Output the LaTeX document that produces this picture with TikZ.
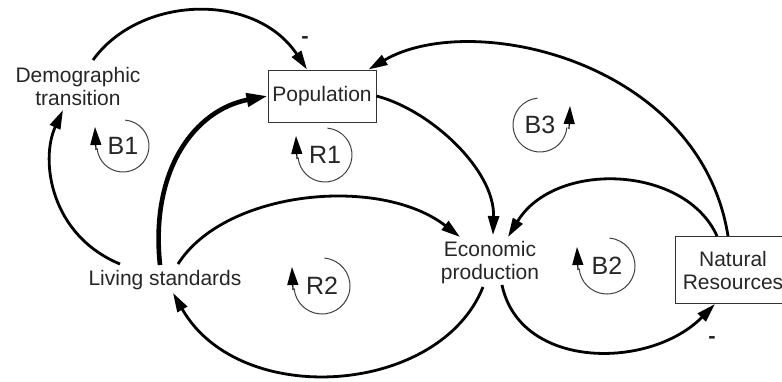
\documentclass[tikz,border=0pt]{standalone}
\usepackage{fontspec}
\setmainfont{Liberation Sans}
\usetikzlibrary{arrows.meta}
\begin{document}
\begin{tikzpicture}[x=1pt,y=1pt,
  every node/.style={text=black!85, inner sep=2pt},
  var/.style={font=\fontsize{21}{23}\selectfont, align=center},
  stock/.style={var, draw=black!80, line width=1pt, minimum width=108pt, minimum height=52pt},
  link/.style={line width=2.8pt, -{Triangle[length=19pt,width=11pt]}},
  strong/.style={link, line width=4.6pt, -{Triangle[length=21pt,width=13pt]}},
  loopname/.style={font=\fontsize{25}{25}\selectfont, inner sep=0pt},
  loopring/.style={line width=1pt, black!75},
  looptip/.style={line width=1.2pt, -{Triangle[length=18pt,width=11pt]}},
  sign/.style={font=\fontsize{22}{22}\selectfont\bfseries, inner sep=0pt}
]
\clip (0,0) rectangle (782,-381);

% variables and stocks
\node[var]   (dem) at (78,-86)   {Demographic\\transition};
\node[stock] (pop) at (322,-96)  {Population};
\node[var]   (liv) at (165,-280) {Living standards};
\node[var]   (eco) at (490,-263) {Economic\\production};
\node[stock, minimum width=116pt, minimum height=67pt] (nat) at (733,-270) {Natural\\Resources};

% causal links
\draw[link] ([shift={(15,26)}]dem.center) .. controls +(47,65) and +(-52,78) .. ([xshift=-15pt]pop.north);
\draw[link] ([shift={(-45,16)}]liv.center) .. controls +(-70,29) and +(-23,-50) .. ([shift={(-15,-24)}]dem.center);
\draw[strong] ([shift={(-5,15)}]liv.center) .. controls +(-10,95) and +(-73,-14) .. (pop.west);
\draw[link] (pop.east) .. controls +(54,-14) and +(2,65) .. ([shift={(3,28)}]eco.center);
\draw[link] ([shift={(13,16)}]liv.center) .. controls +(47,74) and +(-80,62) .. ([shift={(-30,26)}]eco.center);
\draw[link] ([shift={(-7,-24)}]eco.center) .. controls +(-43,-108) and +(67,-117) .. ([shift={(8,-13)}]liv.center);
\draw[link] ([shift={(12,-22)}]eco.center) .. controls +(18,-85) and +(-65,-66) .. ([xshift=-18pt]nat.south);
\draw[link] ([xshift=-16pt]nat.north) .. controls +(-32,71) and +(47,77) .. ([shift={(18,26)}]eco.center);
\draw[link] ([xshift=-5pt]nat.north) .. controls +(-28,176) and +(102,60) .. ([xshift=-8pt]pop.north east);

% polarity signs
\node[sign] (s1) at (305,-40)  {-};
\node[sign] (s2) at (712,-340) {-};

% loop identifiers
\node[loopname] (b1) at (123,-146) {B1};
\node[loopname] (r1) at (325,-155) {R1};
\node[loopname] (r2) at (322,-286) {R2};
\node[loopname] (b2) at (607,-266) {B2};
\node[loopname] (b3) at (540,-125) {B3};

\foreach \c/\r in {b1/26, r1/27, r2/28, b2/28}{
  \draw[loopring] (\c.center) ++(85:\r) arc[start angle=85, end angle=-175, radius=\r];
  \draw[looptip] ([shift={(-\r-1,-4)}]\c.center) -- ([shift={(-\r-2,19)}]\c.center);
}
\draw[loopring] (b3.center) ++(95:27) arc[start angle=95, end angle=355, radius=27];
\draw[looptip] ([shift={(29,-4)}]b3.center) -- ([shift={(30,19)}]b3.center);
\end{tikzpicture}
\end{document}
